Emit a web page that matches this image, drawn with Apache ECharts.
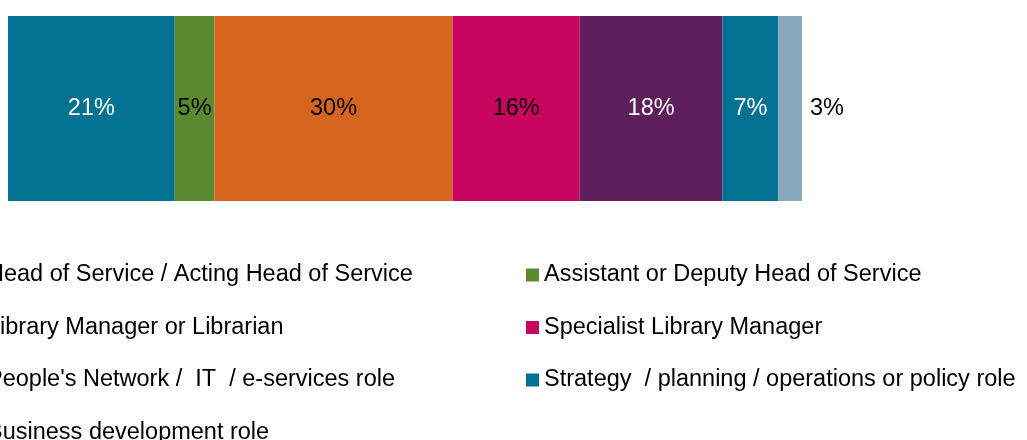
<!DOCTYPE html>
<html>
<head>
<meta charset="utf-8">
<script src="https://cdn.jsdelivr.net/npm/echarts@6/dist/echarts.min.js"></script>
<style>
html,body{margin:0;padding:0;background:#fff;}
#chart{width:1027px;height:440px;}
</style>
</head>
<body>
<div id="chart"></div>
<script>
const categories = ['All'];
const seriesNames = [
  'Head of Service / Acting Head of Service',
  'Assistant or Deputy Head of Service',
  'Library Manager or Librarian',
  'Specialist Library Manager',
  "People's Network /  IT  / e-services role",
  'Strategy  / planning / operations or policy role',
  'Business development role'
];
const values = [21, 5, 30, 16, 18, 7, 3];
const colors = ['#037192', '#5A8A30', '#D5651E', '#C8055E', '#5E1E5E', '#037192', '#86A9C0'];
const labelColors = ['#fff', '#000', '#000', '#000', '#fff', '#fff', '#000'];
const labelPositions = ['inside', 'inside', 'inside', 'inside', 'inside', 'inside', 'right'];

const FONT = 'Liberation Sans, Arial, sans-serif';
const chart = echarts.init(document.getElementById('chart'), null, {renderer: 'canvas'});

const series = seriesNames.map((name, i) => ({
  name: name,
  type: 'bar',
  stack: 'total',
  barWidth: '100%',
  data: [values[i]],
  itemStyle: {color: colors[i]},
  label: {
    show: true,
    position: labelPositions[i],
    distance: 8,
    formatter: '{c}%',
    color: labelColors[i],
    fontFamily: FONT,
    fontSize: 23.5
  },
  emphasis: {disabled: true}
}));

const legendText = {fontFamily: FONT, fontSize: 23.5, color: '#000', lineHeight: 24};

chart.setOption({
  animation: false,
  grid: {left: 8, right: 225, top: 16, bottom: 239, containLabel: false},
  xAxis: {type: 'value', min: 0, max: 100, show: false},
  yAxis: {type: 'category', data: categories, show: false},
  legend: [
    {
      data: [seriesNames[0], seriesNames[2], seriesNames[4], seriesNames[6]],
      orient: 'vertical',
      left: -31,
      top: 263,
      height: 200,
      width: 500,
      padding: 0,
      itemWidth: 13,
      itemHeight: 13,
      itemGap: 28.5,
      icon: 'rect',
      textStyle: legendText
    },
    {
      data: [seriesNames[1], seriesNames[3], seriesNames[5]],
      orient: 'vertical',
      left: 526,
      top: 263,
      height: 200,
      width: 500,
      padding: 0,
      itemWidth: 13,
      itemHeight: 13,
      itemGap: 28.5,
      icon: 'rect',
      textStyle: legendText
    }
  ],
  series: series
});
</script>
</body>
</html>
